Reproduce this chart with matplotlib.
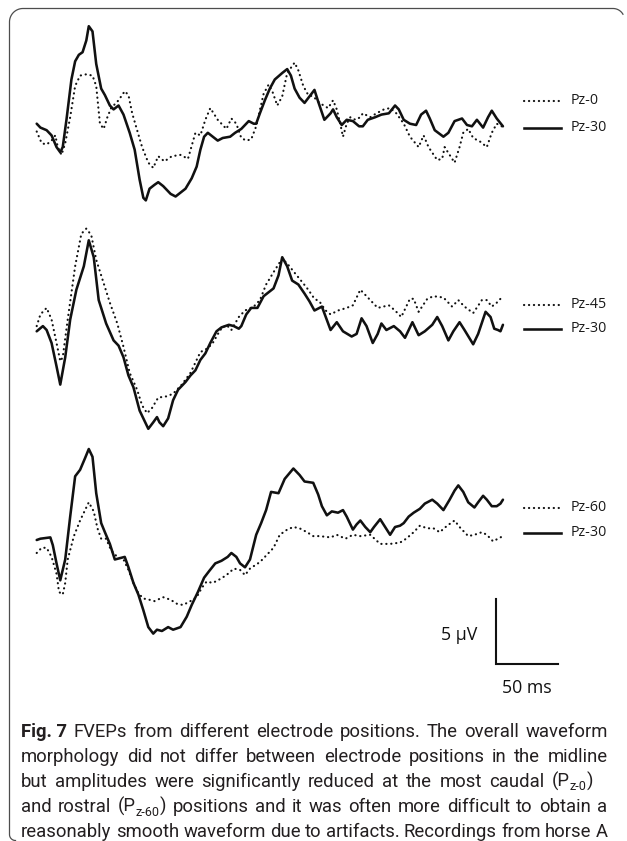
import numpy as np
import matplotlib
matplotlib.use("Agg")
import matplotlib.pyplot as plt
from matplotlib.lines import Line2D

plt.rcParams['font.family'] = ['Open Sans', 'DejaVu Sans']

# ---------------------------------------------------------------
# FVEP waveforms: time after flash (ms) and amplitude (µV)
# ---------------------------------------------------------------
# Panel A: Pz-0 vs Pz-30
t_a_pz0 = [0, 4, 8, 12, 15, 17, 20, 23, 27, 31, 35, 40, 45, 48, 51, 54, 57, 60, 66, 71,
           74, 77, 81, 85, 90, 94, 98, 103, 109, 116, 122, 128, 132, 136, 140, 146, 153,
           157, 161, 165, 169, 173, 177, 183, 187, 190, 194, 198, 202, 208, 211, 215, 219,
           223, 228, 235, 239, 242, 245, 247, 250, 253, 257, 261, 263, 269, 274, 280, 285,
           290, 296, 301, 308, 312, 316, 323, 327, 329, 333, 337, 341, 344, 348, 352, 358,
           363, 367, 371, 375]
v_a_pz0 = [-0.5, -1.4, -1.5, -1.2, -0.8, -1.7, -2.3, -1.4, 0.6, 3.0, 3.8, 3.9, 3.8, 3.0,
           0.1, -0.3, 0.6, 1.3, 1.9, 2.6, 2.3, 0.9, -0.4, -1.7, -2.9, -3.3, -2.4, -2.8,
           -2.4, -2.3, -2.6, -0.6, -0.8, 0.4, 1.3, 0.4, -0.3, 0.5, 0.1, -1.0, -1.2, -1.1,
           -0.1, 2.4, 3.1, 2.6, 1.5, 2.2, 4.0, 4.8, 4.2, 3.0, 2.3, 2.2, 1.7, 1.3, 1.9, 1.2,
           0.0, -0.9, 0.1, 0.6, 0.4, 0.6, 0.9, 0.6, 0.9, 1.2, 1.3, 0.9, 0.1, -0.9, -1.7,
           -0.8, -1.7, -2.7, -2.6, -1.7, -2.3, -2.9, -1.7, -0.6, -0.3, -1.0, -1.3, -1.7,
           -0.6, 0.1, -0.1]

t_a_pz30 = [0, 3, 8, 12, 16, 19, 21, 24, 28, 31, 34, 37, 40, 42, 45, 48, 52, 55, 59, 62,
            66, 70, 75, 79, 83, 86, 88, 91, 95, 98, 102, 108, 112, 116, 120, 125, 129, 132,
            135, 138, 142, 146, 150, 156, 160, 165, 171, 175, 177, 180, 184, 188, 192, 198,
            202, 205, 208, 212, 216, 220, 224, 227, 232, 237, 239, 242, 246, 250, 255, 260,
            263, 267, 273, 278, 284, 289, 292, 296, 301, 306, 310, 314, 317, 321, 328, 332,
            337, 343, 347, 351, 355, 360, 364, 367, 371, 376]
v_a_pz30 = [0.1, -0.2, -0.4, -0.8, -1.7, -2.1, -1.7, 0.4, 3.5, 4.9, 5.4, 5.6, 6.5, 7.6,
            7.2, 4.7, 2.8, 2.3, 1.5, 1.2, 1.5, 0.8, -0.6, -1.9, -4.2, -5.6, -5.8, -4.9,
            -4.6, -4.4, -4.7, -5.3, -5.5, -5.2, -4.9, -4.1, -3.2, -1.9, -0.9, -0.6, -0.9,
            -1.2, -1.0, -0.9, -0.6, -0.3, 0.3, 0.1, 0.1, 0.9, 1.9, 2.8, 3.5, 4.0, 4.3, 3.8,
            2.8, 2.1, 1.7, 2.2, 2.7, 1.8, 0.4, 0.9, 1.2, 0.6, 0.0, 0.4, 0.3, -0.1, -0.1,
            0.4, 0.6, 0.8, 0.9, 1.5, 1.2, 0.4, 0.1, 0.0, 0.8, 1.1, 0.5, -0.4, -0.9, -0.6,
            0.3, 0.5, 0.0, -0.1, 0.4, -0.2, 0.6, 1.1, 0.5, -0.1]

# Panel B: Pz-45 vs Pz-30
t_b_pz45 = [0, 3, 8, 12, 16, 19, 21, 25, 31, 36, 40, 44, 48, 54, 59, 65, 70, 75, 81, 85,
            89, 93, 98, 105, 110, 117, 124, 132, 138, 142, 148, 153, 157, 163, 168, 175,
            180, 185, 192, 198, 203, 208, 214, 219, 224, 228, 233, 237, 243, 250, 255, 261,
            266, 275, 284, 289, 294, 301, 304, 308, 315, 320, 328, 335, 340, 345, 352, 359,
            363, 367, 371, 376]
v_b_pz45 = [0.3, 1.2, 1.7, 0.8, -1.0, -2.4, -2.1, 0.8, 4.9, 7.4, 7.8, 7.3, 5.4, 3.6, 2.1,
            0.5, -1.3, -3.3, -4.6, -5.8, -6.4, -6.0, -5.2, -5.1, -4.9, -4.2, -3.3, -1.7,
            -1.4, -1.0, 0.0, 0.4, 0.0, 1.0, 1.5, 1.8, 2.3, 3.5, 4.6, 5.5, 5.0, 4.4, 3.7,
            3.1, 2.4, 2.2, 1.5, 1.2, 1.5, 1.7, 1.9, 3.1, 2.6, 1.7, 1.9, 1.5, 1.0, 2.4, 2.4,
            1.4, 2.4, 2.6, 2.5, 1.8, 2.3, 1.8, 1.3, 2.3, 2.3, 1.8, 2.1, 2.6]

t_b_pz30 = [0, 5, 8, 12, 16, 19, 23, 27, 32, 38, 42, 46, 50, 56, 62, 66, 70, 74, 78, 83,
            90, 94, 97, 99, 102, 106, 110, 114, 120, 124, 128, 132, 136, 140, 145, 149,
            155, 159, 163, 165, 169, 173, 178, 183, 187, 191, 195, 198, 202, 206, 211, 216,
            220, 224, 230, 237, 242, 247, 254, 258, 262, 266, 271, 275, 278, 282, 288, 293,
            297, 303, 308, 313, 319, 323, 327, 332, 336, 341, 345, 352, 356, 362, 366, 369,
            372, 374, 376]
v_b_pz30 = [-0.1, 0.3, 0.0, -1.0, -2.8, -4.2, -2.1, 0.8, 3.1, 4.9, 6.9, 5.6, 2.3, 0.5,
            -0.8, -1.2, -2.1, -3.5, -4.4, -6.2, -7.6, -7.1, -6.7, -7.1, -7.4, -6.8, -5.4,
            -4.6, -4.0, -3.5, -3.1, -2.3, -1.8, -1.0, -0.1, 0.2, 0.4, 0.3, 0.1, 0.3, 1.2,
            1.7, 1.7, 2.6, 2.9, 3.2, 4.2, 5.6, 4.9, 3.8, 3.5, 2.8, 2.2, 1.5, 1.8, 0.0, 0.6,
            -0.1, -0.5, -0.3, 0.9, 0.3, -1.0, -0.3, 0.5, 0.0, 0.3, -0.1, -0.6, 0.6, -0.4,
            -0.1, 0.4, 1.0, 0.3, -0.8, -0.1, 0.6, 0.0, -1.1, -0.3, 1.4, 1.0, 0.1, 0.0, -0.1,
            0.4]

# Panel C: Pz-60 vs Pz-30
t_c_pz60 = [0, 4, 8, 12, 16, 18, 21, 23, 25, 30, 35, 39, 42, 46, 49, 52, 56, 60, 65, 70,
            74, 78, 82, 86, 91, 95, 102, 108, 113, 118, 124, 129, 133, 137, 142, 148, 153,
            159, 164, 168, 172, 180, 185, 191, 196, 202, 207, 212, 218, 223, 228, 237, 242,
            249, 255, 261, 269, 277, 285, 293, 298, 304, 309, 315, 320, 325, 331, 337, 341,
            348, 353, 359, 363, 368, 372, 376]
v_c_pz60 = [-1.0, -0.6, -0.6, -1.3, -2.6, -4.0, -4.2, -3.3, -1.5, 0.3, 1.5, 2.3, 2.9, 2.2,
            0.9, 0.1, 0.1, -0.8, -1.3, -1.5, -2.3, -3.3, -4.1, -4.5, -4.6, -4.7, -4.4, -4.6,
            -4.9, -5.0, -4.7, -4.4, -3.7, -3.2, -3.3, -3.0, -2.7, -2.2, -2.3, -2.7, -2.2,
            -1.7, -1.2, -0.6, 0.4, 0.8, 1.0, 0.9, 0.6, 0.3, 0.3, 0.2, 0.4, 0.1, 0.4, 0.3,
            0.4, -0.3, -0.3, -0.2, 0.1, 0.6, 1.1, 0.9, 0.9, 0.6, 1.1, 1.5, 1.0, 0.3, 0.4,
            0.6, 0.4, -0.1, 0.1, 0.3]

t_c_pz30 = [0, 3, 11, 13, 16, 19, 23, 27, 31, 35, 39, 42, 45, 48, 52, 55, 59, 63, 67, 71,
            74, 78, 82, 86, 90, 94, 97, 101, 106, 110, 116, 121, 125, 130, 135, 139, 144,
            149, 154, 157, 161, 164, 168, 172, 177, 181, 185, 189, 195, 200, 207, 212, 216,
            223, 227, 230, 234, 238, 243, 247, 250, 255, 258, 261, 265, 269, 272, 277, 281,
            285, 289, 293, 296, 300, 304, 309, 313, 319, 323, 328, 333, 337, 340, 344, 348,
            353, 356, 360, 363, 367, 371, 374, 376]
v_c_pz30 = [0.0, 0.1, 0.2, -0.4, -1.8, -3.1, -1.5, 1.8, 4.9, 5.4, 6.3, 7.0, 6.4, 3.6, 1.3,
            0.6, -0.3, -1.5, -1.4, -1.3, -2.1, -3.3, -4.2, -5.4, -6.7, -7.2, -6.9, -7.0,
            -6.7, -6.9, -6.7, -5.9, -5.0, -4.0, -2.9, -2.4, -1.8, -1.6, -1.3, -1.0, -1.3,
            -1.8, -2.1, -1.5, 0.4, 1.3, 2.3, 3.7, 3.6, 4.7, 5.5, 5.0, 4.5, 4.4, 3.5, 2.6,
            1.9, 2.2, 2.1, 2.3, 1.8, 0.8, 1.2, 1.5, 1.0, 0.6, 1.0, 1.6, 1.0, 0.4, 1.0, 1.1,
            1.3, 1.8, 2.1, 2.4, 2.8, 3.1, 2.8, 2.3, 3.1, 3.8, 4.2, 3.7, 2.9, 2.5, 2.9, 3.4,
            3.1, 2.6, 2.6, 2.8, 3.1]

panels = [
    (t_a_pz0, v_a_pz0, t_a_pz30, v_a_pz30),
    (t_b_pz45, v_b_pz45, t_b_pz30, v_b_pz30),
    (t_c_pz60, v_c_pz60, t_c_pz30, v_c_pz30),
]
legend_labels = [("Pz-0", "Pz-30"), ("Pz-45", "Pz-30"), ("Pz-60", "Pz-30")]

# scale bar (bottom panel units)
scale_ms = 50
scale_uv = 5
scale_t0 = 370      # ms
scale_v0 = -9.5     # µV

caption_lines = [
    [[("Fig. 7", "bold", False)], [("FVEPs", "normal", False)], [("from", "normal", False)],
     [("different", "normal", False)], [("electrode", "normal", False)],
     [("positions.", "normal", False)], [("The", "normal", False)], [("overall", "normal", False)],
     [("waveform", "normal", False)]],
    "morphology did not differ between electrode positions in the midline",
    [*[[(w, "normal", False)] for w in
       "but amplitudes were significantly reduced at the most caudal".split()],
     [("(P", "normal", False), ("z-0", "normal", True), (")", "normal", False)]],
    [[("and", "normal", False)], [("rostral", "normal", False)],
     [("(P", "normal", False), ("z-60", "normal", True), (")", "normal", False)],
     *[[(w, "normal", False)] for w in
       "positions and it was often more difficult to obtain a".split()]],
    "reasonably smooth waveform due to artifacts. Recordings from horse A",
]

# ---------------------------------------------------------------
# layout (figure pixels, y measured from the top)
# ---------------------------------------------------------------
W, H = 627, 841
X_ZERO = 36.7          # x pixel of t = 0 ms
PX_PER_MS = 1.24
PX_PER_UV = 13.0
PANEL_BASE = [125, 330, 540]   # y pixel of 0 µV in each panel

fig = plt.figure(figsize=(W / 100, H / 100), dpi=100)
fig.patch.set_facecolor("white")

# pixel-space overlay for frame, legend and caption
over = fig.add_axes([0, 0, 1, 1], zorder=5)
over.set_xlim(0, W)
over.set_ylim(H, 0)
over.axis("off")
over.patch.set_alpha(0)

solid_kw = dict(color="#111111", lw=1.85, solid_joinstyle="round", solid_capstyle="round")
dot_kw = dict(color="#111111", lw=1.55, dashes=(0.1, 2.2), dash_capstyle="round")

axes = []
for i, (td, vd, ts, vs) in enumerate(panels):
    ax = fig.add_axes([0, 0, 1, 1], zorder=2 + i)
    ax.patch.set_alpha(0)
    ax.set_xlim(-X_ZERO / PX_PER_MS, (W - X_ZERO) / PX_PER_MS)
    base = PANEL_BASE[i]
    ax.set_ylim((base - H) / PX_PER_UV, base / PX_PER_UV)
    ax.axis("off")
    ax.plot(td, vd, **dot_kw)
    ax.plot(ts, vs, **solid_kw)
    axes.append(ax)

# scale bar drawn in the bottom panel's µV / ms units
axes[2].plot([scale_t0, scale_t0, scale_t0 + scale_ms],
             [scale_v0 + scale_uv, scale_v0, scale_v0],
             color="#111111", lw=1.5, solid_joinstyle="miter")
over.text(477, 635, "5 \u03bcV", ha="right", va="center", fontsize=12.8, color="#111111")
over.text(527, 688, f"{scale_ms} ms", ha="center", va="center", fontsize=12.8, color="#111111")

# legends
legend_rows = [(100.5, 127.5), (304.5, 328.5), (507.5, 532.5)]
for (lab_d, lab_s), (yd, ys) in zip(legend_labels, legend_rows):
    over.add_line(Line2D([524, 559], [yd, yd], **dot_kw))
    over.add_line(Line2D([524, 561], [ys, ys], color="#111111", lw=1.85))
    over.text(571, yd, lab_d, ha="left", va="center", fontsize=10.3, color="#1a1a1a")
    over.text(571, ys, lab_s, ha="left", va="center", fontsize=10.3, color="#1a1a1a")


# rounded frame: left and top edges only
def arc(cx, cy, r, a0, a1, n=24):
    a = np.radians(np.linspace(a0, a1, n))
    return cx + r * np.cos(a), cy + r * np.sin(a)


fx, fy = [], []
for seg in (arc(15.5, 834.5, 6.0, 90, 180), arc(23.0, 22.0, 13.5, 180, 270),
            arc(613.0, 20.0, 11.5, 270, 330)):
    fx.extend(seg[0])
    fy.extend(seg[1])
over.add_line(Line2D(fx, fy, color="#4d4d4d", lw=0.9, solid_joinstyle="round"))

# caption, justified between a left margin and per-line right edges
fig.canvas.draw()
renderer = fig.canvas.get_renderer()
CAP_COLOR = "#231f20"
CAP_FAMILY = ["Roboto", "DejaVu Sans"]
cap_left = 21
cap_right = [608, 608, 593, 607, 608]
cap_base = [737, 762, 787, 812, 837]


def as_words(line):
    if isinstance(line, str):
        return [[(w, "normal", False)] for w in line.split()]
    return line


def seg_width(text, weight, size):
    t = over.text(0, 0, text, fontsize=size, fontweight=weight, family=CAP_FAMILY)
    w = t.get_window_extent(renderer).width
    t.remove()
    return w


SUB_SCALE = 0.68
ref = 12.0
space_ref = seg_width("a a", "normal", ref) - 2 * seg_width("a", "normal", ref)
fits = []
for line, right in zip(caption_lines, cap_right):
    words = as_words(line)
    nat = sum(seg_width(s, wt, ref * (SUB_SCALE if sub else 1)) for wd in words for s, wt, sub in wd)
    nat += space_ref * (len(words) - 1)
    fits.append((right - cap_left) / nat)
cap_size = ref * min(fits)

for line, right, yb in zip(caption_lines, cap_right, cap_base):
    words = as_words(line)
    widths = []
    for wd in words:
        widths.append([seg_width(s, wt, cap_size * (SUB_SCALE if sub else 1)) for s, wt, sub in wd])
    total = sum(sum(w) for w in widths)
    gap = (right - cap_left - total) / (len(words) - 1)
    x = cap_left
    for wd, ws in zip(words, widths):
        for (s, wt, sub), w in zip(wd, ws):
            size = cap_size * (SUB_SCALE if sub else 1)
            y = yb + (3.5 if sub else 0)
            over.text(x, y, s, fontsize=size, fontweight=wt, color=CAP_COLOR,
                      family=CAP_FAMILY, ha="left", va="baseline")
            x += w
        x += gap

fig.savefig("out.png", dpi=100, facecolor="white")
